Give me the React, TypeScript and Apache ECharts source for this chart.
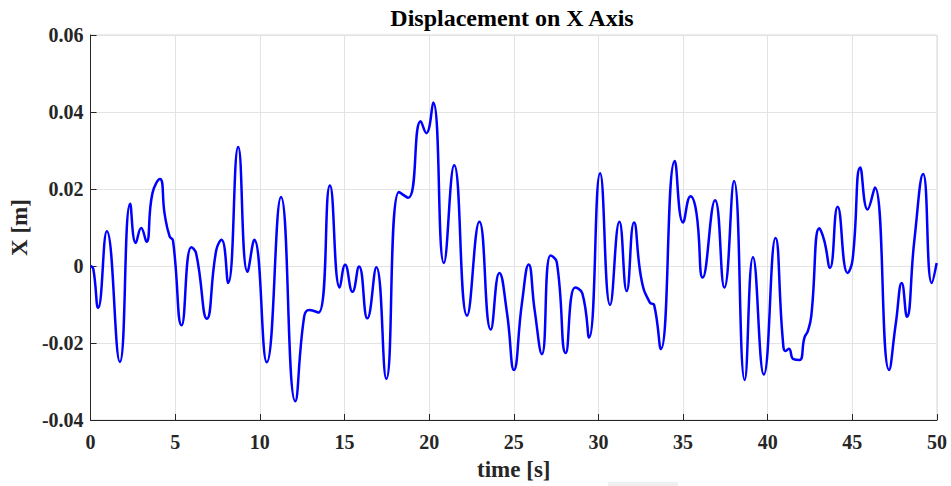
import React, { useEffect, useRef } from "react";
import * as echarts from "echarts";

const timeS: number[] = [
  0, 0.16, 0.45, 0.96, 1.73, 2.34, 2.67, 2.99, 3.3, 3.65, 4.1, 4.38, 4.67, 4.87,
  5.38, 5.95, 6.24, 6.87, 7.42, 7.74, 8.13, 8.72, 9.27, 9.67, 10.41, 11.25,
  12.09, 12.62, 12.91, 13.47, 14.14, 14.72, 15.04, 15.47, 15.86, 16.35, 16.88,
  17.47, 18.22, 18.77, 19.5, 19.83, 20.24, 20.87, 21.48, 22.24, 22.97, 23.64,
  24.15, 24.6, 25.01, 25.48, 25.88, 26.23, 26.66, 27.17, 27.54, 28.07, 28.62,
  29.05, 29.45, 30.1, 30.69, 31.24, 31.67, 32.1, 32.55, 33.04, 33.29, 33.69,
  34.51, 35.0, 35.44, 35.79, 36.16, 36.89, 37.44, 38.01, 38.64, 39.13, 39.77,
  40.46, 40.89, 41.05, 41.25, 41.52, 41.88, 42.17, 42.37, 42.57, 43.05, 43.34,
  43.68, 44.13, 44.72, 45.01, 45.47, 45.9, 46.33, 47.17, 47.57, 47.92, 48.22,
  48.66, 49.18, 49.69, 49.98,
];

const dispX: number[] = [
  0, -0.0007, -0.0109, 0.009, -0.0249, 0.0162, 0.006, 0.0099, 0.0063, 0.0188,
  0.0226, 0.0134, 0.0077, 0.0066, -0.0154, 0.0049, 0.0032, -0.0137, 0.004,
  0.0068, -0.0044, 0.0309, -0.0015, 0.0068, -0.025, 0.0179, -0.0351, -0.0131,
  -0.0114, -0.0121, 0.0209, -0.0056, 0.0003, -0.0067, -0.0001, -0.0136,
  -0.0003, -0.0293, 0.0192, 0.0177, 0.0376, 0.0345, 0.0425, 0.0008, 0.0262,
  -0.0129, 0.0115, -0.0165, -0.0018, -0.0122, -0.027, -0.0097, 0.0004, -0.0114,
  -0.0229, 0.0027, 0.001, -0.0226, -0.0056, -0.0071, -0.0186, 0.0241, -0.0101,
  0.0115, -0.0065, 0.0113, -0.0037, -0.0095, -0.0101, -0.0216, 0.0273, 0.0113,
  0.0181, 0.0138, -0.003, 0.0171, -0.0056, 0.0221, -0.0296, 0.0023, -0.0282,
  0.0073, -0.0191, -0.0221, -0.0215, -0.0242, -0.0244, -0.0186, -0.0169,
  -0.0131, 0.0098, 0.0066, -0.0005, 0.0154, -0.0018, 0.0015, 0.0256, 0.0147,
  0.0204, -0.027, -0.0148, -0.0044, -0.0132, 0.0066, 0.0239, -0.0044, 0.0008,
];

const xTicks: number[] = [0, 5, 10, 15, 20, 25, 30, 35, 40, 45, 50];
const yTicks: number[] = [-0.04, -0.02, 0, 0.02, 0.04, 0.06];

const FONT = "'Liberation Serif', 'Times New Roman', serif";

export default function App() {
  const ref = useRef<HTMLDivElement>(null);
  useEffect(() => {
    if (!ref.current) return;
    const chart = echarts.init(ref.current, undefined, { renderer: "svg" });
    const data = timeS.map((t, i) => [t, dispX[i]]);
    chart.setOption({
      animation: false,
      backgroundColor: "#ffffff",
      title: {
        text: "Displacement on X Axis",
        left: 512,
        top: 6,
        padding: 0,
        textAlign: "center",
        textStyle: { fontFamily: FONT, fontWeight: "bold", fontSize: 24, color: "#000000" },
      },
      grid: {
        left: 87,
        right: 14,
        top: 35,
        bottom: 62,
        show: true,
        borderColor: "#d9d9d9",
        borderWidth: 1,
        backgroundColor: "#ffffff",
      },
      xAxis: {
        type: "value",
        min: xTicks[0],
        max: xTicks[xTicks.length - 1],
        interval: 5,
        name: "time [s]",
        nameLocation: "middle",
        nameGap: 38,
        nameTextStyle: { fontFamily: FONT, fontWeight: "bold", fontSize: 23, color: "#262626" },
        axisLine: { show: true, onZero: false, lineStyle: { color: "#262626", width: 1 } },
        axisTick: { show: true, inside: true, length: 6, lineStyle: { color: "#262626" } },
        axisLabel: { fontFamily: FONT, fontWeight: "bold", fontSize: 20, color: "#262626", margin: 12 },
        splitLine: { show: true, lineStyle: { color: "#e3e3e3", width: 1 } },
      },
      yAxis: {
        type: "value",
        min: yTicks[0],
        max: yTicks[yTicks.length - 1],
        interval: 0.02,
        name: "X [m]",
        nameLocation: "middle",
        nameGap: 53,
        nameRotate: 90,
        nameTextStyle: { fontFamily: FONT, fontWeight: "bold", fontSize: 23, color: "#262626" },
        axisLine: { show: true, onZero: false, lineStyle: { color: "#262626", width: 1 } },
        axisTick: { show: true, inside: true, length: 6, lineStyle: { color: "#262626" } },
        axisLabel: {
          fontFamily: FONT,
          fontWeight: "bold",
          fontSize: 20,
          color: "#262626",
          margin: 7,
          formatter: (v: number) => (Math.abs(v) < 1e-9 ? "0" : v.toFixed(2)),
        },
        splitLine: { show: true, lineStyle: { color: "#e3e3e3", width: 1 } },
      },
      graphic: [
        {
          type: "rect",
          left: 608,
          top: 482,
          shape: { width: 70, height: 4 },
          style: { fill: "#f0f0f0" },
          silent: true,
        },
      ],
      series: [
        {
          type: "line",
          data,
          smooth: 0.5,
          showSymbol: false,
          lineStyle: { color: "#0000ff", width: 2.5 },
        },
      ],
    });
    return () => chart.dispose();
  }, []);
  return (
    <div
      ref={ref}
      style={{ position: "absolute", left: 0, top: 0, width: 951, height: 486 }}
    />
  );
}
